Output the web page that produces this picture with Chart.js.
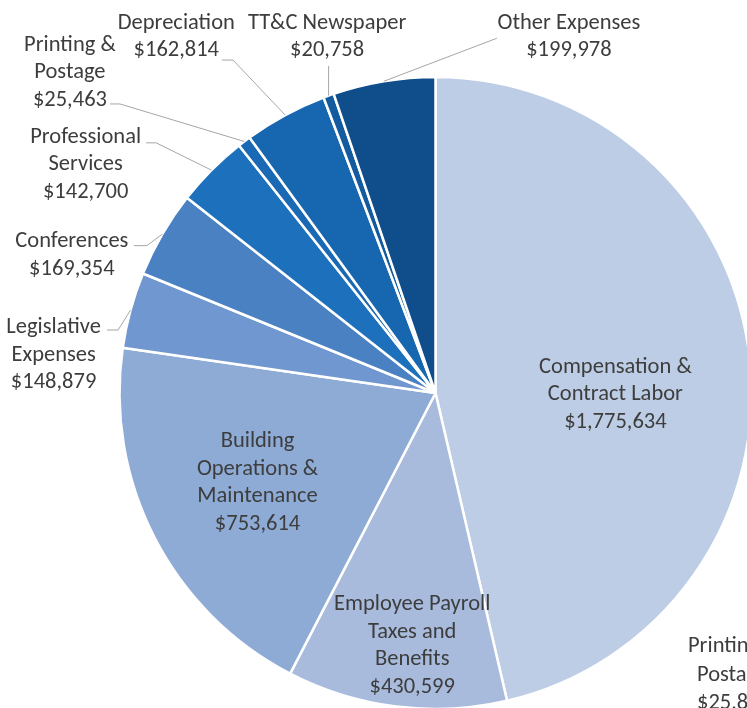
<!DOCTYPE html>
<html>
<head>
<meta charset="utf-8">
<script src="https://cdn.jsdelivr.net/npm/chart.js@4/dist/chart.umd.min.js"></script>
<style>
  body { margin: 0; background: #ffffff; }
  #wrap { width: 747px; height: 708px; overflow: hidden; }
</style>
</head>
<body>
<div id="wrap"><canvas id="chart_expenses" width="747" height="708"></canvas></div>
<script>
// slices clockwise from 12 o'clock
var categories = [
    ['Compensation &', 'Contract Labor'],
    ['Employee Payroll', 'Taxes and', 'Benefits'],
    ['Building', 'Operations &', 'Maintenance'],
    ['Legislative', 'Expenses'],
    ['Conferences'],
    ['Professional', 'Services'],
    ['Printing &', 'Postage'],
    ['Depreciation'],
    ['TT&C Newspaper'],
    ['Other Expenses']
]
var amounts = [1775634, 430599, 753614, 148879, 169354, 142700, 25463, 162814, 20758, 199978]
var valueLabels = ['$1,775,634', '$430,599', '$753,614', '$148,879', '$169,354', '$142,700', '$25,463', '$162,814', '$20,758', '$199,978']
var cores = ['#bdcde5', '#a8bbdd', '#8eabd6', '#7097cf', '#4a81c2', '#1c70bc', '#1a69b4', '#1766b0', '#135a9e', '#0f4e8b']

// stray label cut off at the bottom right of the picture
var strayLines = ['Printing &', 'Postage', '$25,8']

// label placement: inside = radius fraction along mid angle, outside = offsets from the arc edge
var labelPos = [
    {inside: true, r: 0.573, dx: 0, dy: 20},
    {inside: true, r: 0.796, dx: 8, dy: 1},
    {inside: true, r: 0.626, dx: -2, dy: -3},
    {tx: -77, ty: 42.5, path: [[-12.5, 20], [-23.5, 20]]},
    {tx: -90.5, ty: 18.5, path: [[-15.5, 11.5], [-28.5, 11.5]]},
    {tx: -125.8, ty: -7.8, path: [[-55.3, -27.3], [-65.3, -27.3]]},
    {tx: -174.3, ty: -71.5, path: [[-124.3, -37.5], [-134.3, -37.5]]},
    {tx: -108.9, ty: -80.5, path: [[-52.2, -55], [-63.2, -55]]},
    {tx: -1.5, ty: -61.2, path: [[0, -29.7]]},
    {tx: 185, ty: -46.7, path: [[113, -43]]}
]

var fontLabel = '22.5px Carlito, Lato, sans-serif'
var lineH = 27.5
var textShift = 2.5

var pieLabels = {
    id: 'pieLabels',
    afterDatasetsDraw: function(chart) {
        var ctx = chart.ctx
        var arcs = chart.getDatasetMeta(0).data
        ctx.save()
        ctx.font = fontLabel
        ctx.fillStyle = '#3d3d3d'
        ctx.textAlign = 'center'
        ctx.textBaseline = 'middle'
        arcs.forEach(function(arc, i) {
            var p = arc.getProps(['x', 'y', 'startAngle', 'endAngle', 'outerRadius'], true)
            var mid = (p.startAngle + p.endAngle) / 2
            var pos = labelPos[i]
            var cx, cy
            if (pos.inside) {
                cx = p.x + Math.cos(mid) * p.outerRadius * pos.r + pos.dx
                cy = p.y + Math.sin(mid) * p.outerRadius * pos.r + pos.dy
            } else {
                var ax = p.x + Math.cos(mid) * p.outerRadius
                var ay = p.y + Math.sin(mid) * p.outerRadius
                ctx.strokeStyle = '#a6a6a6'
                ctx.lineWidth = 1
                ctx.beginPath()
                ctx.moveTo(ax, ay)
                pos.path.forEach(function(pt) { ctx.lineTo(ax + pt[0], ay + pt[1]) })
                ctx.stroke()
                cx = ax + pos.tx
                cy = ay + pos.ty
            }
            var lines = categories[i].concat([valueLabels[i]])
            lines.forEach(function(txt, k) {
                ctx.fillText(txt, cx, cy + textShift + (k - (lines.length - 1) / 2) * lineH)
            })
        })
        ctx.textAlign = 'left'
        ctx.fillText(strayLines[0], 688, 644 + textShift)
        ctx.fillText(strayLines[1], 697, 673 + textShift)
        ctx.fillText(strayLines[2], 697, 701 + textShift)
        ctx.restore()
    }
}

var ctx = document.getElementById('chart_expenses')
var chartPie = new Chart(ctx, {
    type: 'pie',
    data: {
        labels: categories.map(function(c) { return c.join(' ') }),
        datasets: [{
            data: amounts,
            backgroundColor: cores,
            borderColor: '#ffffff',
            borderWidth: 2.5,
            radius: 316,
            clip: false
        }]
    },
    options: {
        responsive: false,
        animation: false,
        layout: {
            padding: {left: 124, top: 78, right: 0, bottom: 0}
        },
        plugins: {
            legend: {display: false},
            tooltip: {enabled: false}
        }
    },
    plugins: [pieLabels]
});
</script>
</body>
</html>
